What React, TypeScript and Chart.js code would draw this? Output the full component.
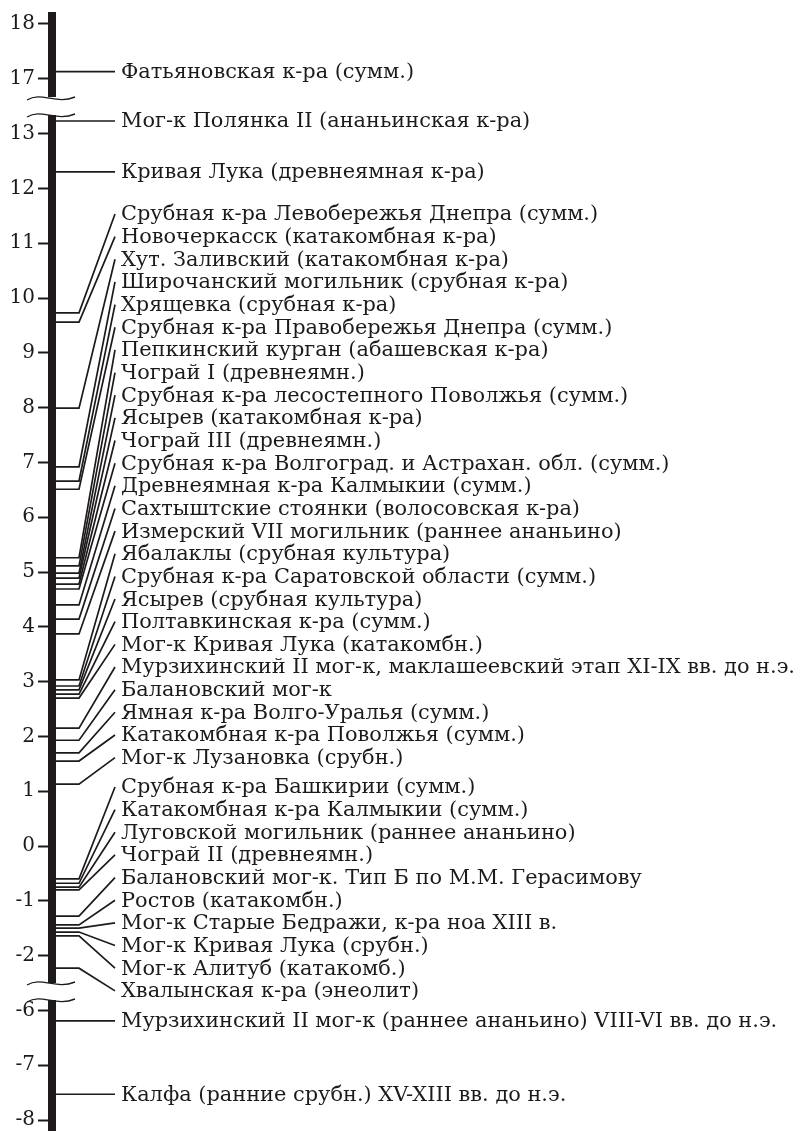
import React, { useEffect, useRef } from "react";
import { Chart, registerables } from "chart.js";

Chart.register(...registerables);

// ---------- DATA ----------
const categories: string[] = [
  "Фатьяновская к-ра (сумм.)",
  "Мог-к Полянка II (ананьинская к-ра)",
  "Кривая Лука (древнеямная к-ра)",
  "Срубная к-ра Левобережья Днепра (сумм.)",
  "Новочеркасск (катакомбная к-ра)",
  "Хут. Заливский (катакомбная к-ра)",
  "Широчанский могильник (срубная к-ра)",
  "Хрящевка (срубная к-ра)",
  "Срубная к-ра Правобережья Днепра (сумм.)",
  "Пепкинский курган (абашевская к-ра)",
  "Чограй I (древнеямн.)",
  "Срубная к-ра лесостепного Поволжья (сумм.)",
  "Ясырев (катакомбная к-ра)",
  "Чограй III (древнеямн.)",
  "Срубная к-ра Волгоград. и Астрахан. обл. (сумм.)",
  "Древнеямная к-ра Калмыкии (сумм.)",
  "Сахтыштские стоянки (волосовская к-ра)",
  "Измерский VII могильник (раннее ананьино)",
  "Ябалаклы (срубная культура)",
  "Срубная к-ра Саратовской области (сумм.)",
  "Ясырев (срубная культура)",
  "Полтавкинская к-ра (сумм.)",
  "Мог-к Кривая Лука (катакомбн.)",
  "Мурзихинский II мог-к, маклашеевский этап XI-IX вв. до н.э.",
  "Балановский мог-к",
  "Ямная к-ра Волго-Уралья (сумм.)",
  "Катакомбная к-ра Поволжья (сумм.)",
  "Мог-к Лузановка (срубн.)",
  "Срубная к-ра Башкирии (сумм.)",
  "Катакомбная к-ра Калмыкии (сумм.)",
  "Луговской могильник (раннее ананьино)",
  "Чограй II (древнеямн.)",
  "Балановский мог-к. Тип Б по М.М. Герасимову",
  "Ростов (катакомбн.)",
  "Мог-к Старые Бедражи, к-ра ноа XIII в.",
  "Мог-к Кривая Лука (срубн.)",
  "Мог-к Алитуб (катакомб.)",
  "Хвалынская к-ра (энеолит)",
  "Мурзихинский II мог-к (раннее ананьино) VIII-VI вв. до н.э.",
  "Калфа (ранние срубн.) XV-XIII вв. до н.э.",
];

const values: number[] = [
  17.13, 13.23, 12.3,
  9.73, 9.56, 7.99,
  6.92, 6.66, 6.51,
  5.26, 5.11, 4.98, 4.89, 4.78, 4.69, 4.4, 4.14, 3.87,
  3.03, 2.92, 2.85, 2.77, 2.7,
  2.15, 1.93, 1.7, 1.55, 1.13,
  -0.6, -0.68, -0.75, -0.8,
  -1.28, -1.44, -1.5, -1.57, -1.64,
  -2.23,
  -6.19, -7.53,
];

// labels drawn straight (no fan-out)
const straightIdx: number[] = [0, 1, 2, 38, 39];
// fan groups: [first index, last index]
const fanGroups: number[][] = [
  [3, 27],
  [28, 37],
];

const tickValues: number[] = [18, 17, 13, 12, 11, 10, 9, 8, 7, 6, 5, 4, 3, 2, 1, 0, -1, -2, -6, -7, -8];
const tickLabels: string[] = tickValues.map((v) => String(v));

// ---------- LAYOUT / STYLE ----------
const W = 805;
const H = 1131;
const CANVAS_H = 1160;
const INK = "#1e1a1b";
const PX_PER_UNIT = 54.8;
const AXIS_W = 48;
const Y_MAX = 18 + 11 / PX_PER_UNIT;
const Y_MIN = -2 - 27 / PX_PER_UNIT;

function toDisplay(v: number): number {
  if (v > 15) return v;
  if (v >= -4) return v + 3;
  return v + 6;
}
const pxToDisplay = (py: number) => 18 - (py - 24) / PX_PER_UNIT;

const FAN_START_PX = [214, 787];
const FAN_STEP_PX = 22.65;

const X_BAR = 4;
const X_STUB0 = 8;
const X_KINK = 31;
const X_END = 67;
const X_TEXT = 73;
const WAVE_X0 = -21;
const WAVE_X1 = 27;
const LONGEST_TEXT_PX = 674;
const LABEL_FONT_PX = 21;

const barSegments: number[][] = [
  [pxToDisplay(12), pxToDisplay(97)],
  [pxToDisplay(115), pxToDisplay(983)],
  [pxToDisplay(1000), pxToDisplay(1140)],
];
const wavePositions: number[] = [pxToDisplay(98), pxToDisplay(115), pxToDisplay(983), pxToDisplay(1000)];

export default function App() {
  const ref = useRef<HTMLCanvasElement | null>(null);

  useEffect(() => {
    const canvas = ref.current;
    if (!canvas) return;
    document.body.style.margin = "0";

    const slots: number[] = values.map((v) => toDisplay(v));
    fanGroups.forEach(([a, b], g) => {
      for (let i = a; i <= b; i++) {
        slots[i] = pxToDisplay(FAN_START_PX[g] + (i - a) * FAN_STEP_PX);
      }
    });

    const family = '"DejaVu Serif Condensed", "DejaVu Serif"';
    const labelFont = `${LABEL_FONT_PX}px ${family}`;
    const mctx = document.createElement("canvas").getContext("2d")!;
    mctx.font = labelFont;
    const wLong = mctx.measureText(categories[23]).width;
    const sx = LONGEST_TEXT_PX / wLong;

    const datasets: any[] = [];
    barSegments.forEach(([a, b]) => {
      datasets.push({
        data: [
          { x: X_BAR, y: a },
          { x: X_BAR, y: b },
        ],
        showLine: true,
        borderColor: INK,
        borderWidth: 8,
        borderCapStyle: "butt",
        pointRadius: 0,
        clip: false,
      });
    });
    values.forEach((v, i) => {
      const d = toDisplay(v);
      const straight = straightIdx.includes(i);
      const data = straight
        ? [
            { x: X_STUB0, y: d },
            { x: X_END, y: d },
          ]
        : [
            { x: X_STUB0, y: d },
            { x: X_KINK, y: d },
            { x: X_END, y: slots[i] },
          ];
      datasets.push({
        data,
        showLine: true,
        borderColor: INK,
        borderWidth: 1.7,
        pointRadius: 0,
        tension: 0,
        clip: false,
      });
    });

    const overlay = {
      id: "overlay",
      afterDatasetsDraw(chart: any) {
        const { ctx, scales } = chart;
        const x = scales.x;
        const y = scales.y;
        ctx.save();
        ctx.fillStyle = INK;
        ctx.font = labelFont;
        ctx.textBaseline = "middle";
        ctx.textAlign = "left";
        categories.forEach((c, i) => {
          const px = x.getPixelForValue(X_TEXT);
          const py = y.getPixelForValue(slots[i]) + 1;
          ctx.save();
          ctx.translate(px, py);
          ctx.scale(sx, 1);
          ctx.fillText(c, 0, 0);
          ctx.restore();
        });
        ctx.strokeStyle = INK;
        ctx.lineWidth = 1.4;
        wavePositions.forEach((d) => {
          const py = y.getPixelForValue(d);
          const x0 = x.getPixelForValue(WAVE_X0);
          const x1 = x.getPixelForValue(WAVE_X1);
          const w = x1 - x0;
          ctx.beginPath();
          ctx.moveTo(x0, py + 2);
          ctx.bezierCurveTo(x0 + w * 0.3, py - 7, x0 + w * 0.6, py + 7, x1, py - 1);
          ctx.stroke();
        });
        ctx.restore();
      },
    };

    const chart = new Chart(canvas, {
      type: "scatter",
      data: { datasets },
      options: {
        animation: false,
        responsive: false,
        events: [],
        layout: { padding: { top: 13, bottom: 13, left: 0, right: 0 } },
        plugins: { legend: { display: false }, tooltip: { enabled: false } },
        scales: {
          x: { type: "linear", display: false, min: 0, max: W - AXIS_W },
          y: {
            type: "linear",
            position: "left",
            min: Y_MIN,
            max: Y_MAX,
            afterBuildTicks: (s: any) => {
              s.ticks = tickValues.map((v) => ({ value: toDisplay(v) }));
            },
            afterFit: (s: any) => {
              s.width = AXIS_W;
            },
            ticks: {
              autoSkip: false,
              padding: 3,
              color: INK,
              font: { family: "DejaVu Serif", size: 20, lineHeight: 1 },
              callback: (_v: any, i: number) => tickLabels[i],
            },
            grid: {
              drawOnChartArea: false,
              drawTicks: true,
              tickLength: 10,
              tickWidth: 2,
              tickColor: INK,
              color: INK,
            },
            border: { display: false },
          },
        },
      },
      plugins: [overlay],
    });
    return () => chart.destroy();
  }, []);

  return (
    <div style={{ position: "fixed", left: 0, top: 0, width: W, height: H, overflow: "hidden", background: "#fff" }}>
      <canvas ref={ref} width={W} height={CANVAS_H} style={{ display: "block" }} />
    </div>
  );
}
